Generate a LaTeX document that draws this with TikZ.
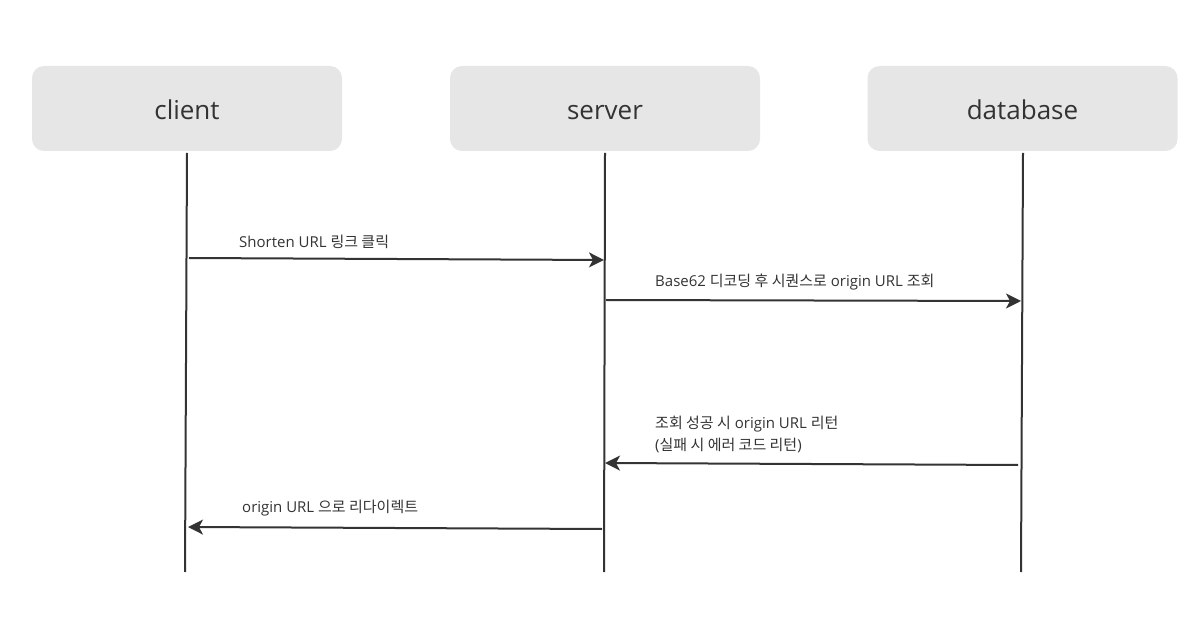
\documentclass[tikz,border=0pt]{standalone}
\usepackage{fontspec}
\setmainfont{Open Sans}
\newfontfamily\kr{Noto Sans CJK KR}
\usetikzlibrary{arrows.meta}
\definecolor{boxgray}{HTML}{E6E6E6}
\definecolor{inkgray}{HTML}{333333}

\begin{document}
\begin{tikzpicture}[x=1pt,y=-1pt,>={Stealth[length=15pt,width=15pt,inset=4pt]},
    actor/.style={fill=boxgray,rounded corners=12pt,minimum width=310pt,minimum height=85pt,text=inkgray,text height=23pt,text depth=0pt,font=\fontsize{26}{30}\selectfont},
    life/.style={draw=inkgray,line width=2pt},
    msg/.style={->,draw=inkgray,line width=2pt},
    note/.style={anchor=west,text=inkgray,inner sep=0pt,align=left,font=\fontsize{15}{21.5}\selectfont}]
                \useasboundingbox(0, 0) rectangle (1192, 620);
                \node[actor](client)at(187, 108.5){client};
                \node[actor](server)at(605, 108.5){server};
                \node[actor](database)at(1022.5, 108.5){database};
                \coordinate(clientend)at(185, 572);
                \coordinate(serverend)at(604, 572);
                \coordinate(databaseend)at(1021, 572);
                \draw[life](187, 153) -- (clientend);
                \draw[life](605, 153) -- (serverend);
                \draw[life](1023, 153) -- (databaseend);
                % points on the lifelines
                \coordinate(c1)at(189, 258);
                \coordinate(s1)at(604, 260);
                \coordinate(s2)at(606, 300);
                \coordinate(d2)at(1021, 301);
                \coordinate(d3)at(1018, 465);
                \coordinate(s3)at(605, 463);
                \coordinate(s4)at(602, 529);
                \coordinate(c4)at(188, 527);
                \path(c1) edge[msg] (s1)
                (s2) edge[msg] (d2)
                (d3) edge[msg] (s3)
                (s4) edge[msg] (c4);
                \node[note](n1)at(239, 242){Shorten URL {\kr 링크 클릭}};
                \node[note](n2)at(655, 282){Base62 {\kr 디코딩 후 시퀀스로} origin URL {\kr 조회}};
                \node[note](n3)at(655, 434.5){{\kr 조회 성공 시} origin URL {\kr 리턴}\\({\kr 실패 시 에러 코드 리턴})};
                \node[note](n4)at(242, 508){origin URL {\kr 으로 리다이렉트}};
            \end{tikzpicture}
\end{document}
